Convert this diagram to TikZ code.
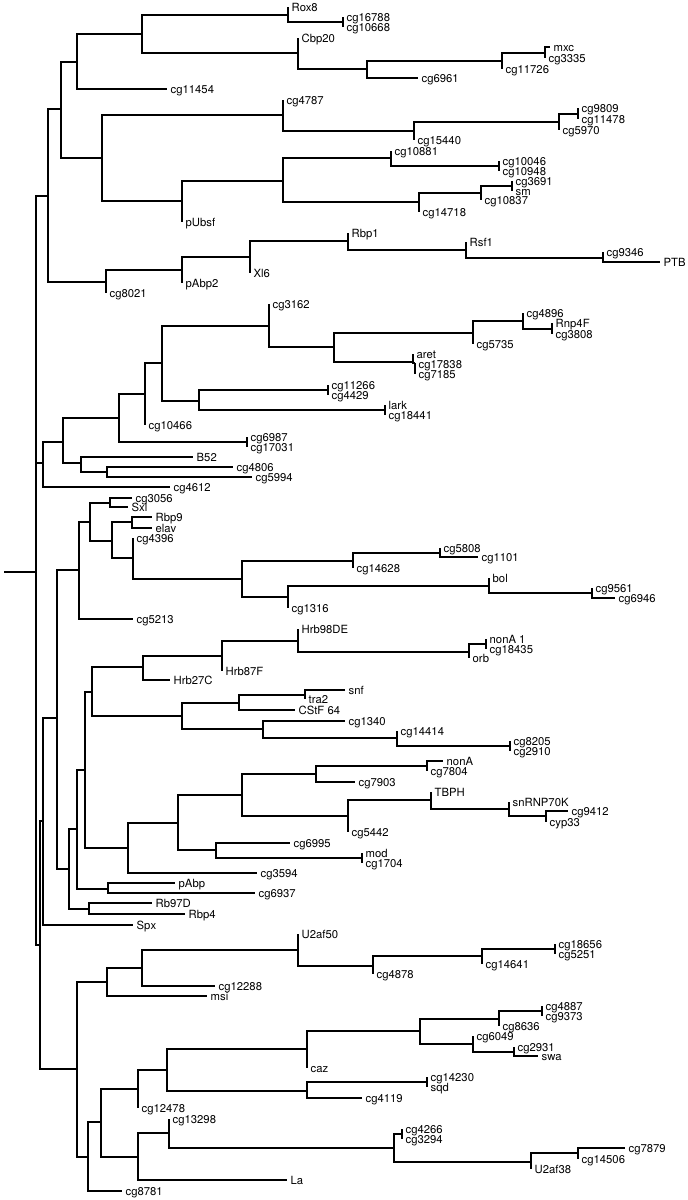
\documentclass[tikz,border=0pt]{standalone}
\usepackage{fontspec}
\setmainfont{TeX Gyre Heros}
\usepackage{tikz}
\tikzset{br/.style={line width=1.7pt},
 lab/.style={anchor=base west,inner sep=0pt,xshift=3.5pt,yshift=-4pt,font=\fontsize{11.3}{12}\selectfont}}

\begin{document}
\begin{tikzpicture}[x=1pt,y=-1pt]
\useasboundingbox(0,0)rectangle(688,1200);
\foreach \n/\x/\y in {r/36/572,nA/48/196,nA1/61/109,nA2/106/282,nA11/77/62,nA12/102/158,nA111/142/34,
 nrox/288/15,nt1/343/22,ncbp/298/53,nc1/367/69,nc2/502/61,nc3/545/53,nd1/283/115,nd3/414/131,nd4/559/122,
 nt2/578/114,nd2/182/201,nd5/283/181,nd6/391/158,nt3/499/166,nd7/419/202,nd8/481/193,nt4/512/186,
 ne1/182/270,ne2/250/257,ne3/348/241,ne4/466/250,ne5/603/258,
 nB/43/463,nb1/63/442,nb2/119/418,nt5/247/442,nb4/145/394,nb5/162/363,nb6/269/326,nb8/334/347,nb9/473/333,
 nb11/523/321,nt6/552/329,nb10/413/362,nt7/415/363,nb7/199/401,nt8/328/390,nt9/385/410,nb3/81/463,nb12/107/472,
 nCD/40/945,nC/43/821,nc10/57/718,nc11/79/570,nc13/90/522,nc14/110/503,nc15/112/541,nc16/132/522,nc17/133/558,
 nc18/242/579,nc19/353/561,nc21/440/553,nc20/288/597,nc22/489/586,nc23/592/593,nc12/69/869,nc25/89/909,
 nc24/77/829,nc27/108/889,nc26/85/770,nc28/92/692,nc30/143/667,nc32/222/656,nc33/298/641,nc34/469/652,
 nt10/486/644,nc31/182/716,nc35/239/703,nc37/305/695,nc36/263/729,nc38/397/738,nt11/510/746,nc29/128/848,
 nc39/178/823,nc40/242/795,nc42/316/774,nc44/427/766,nc43/348/816,nc45/431/800,nc46/509/809,nc47/546/816,
 nc41/216/850,nt12/362/858,
 nD/77/1069,nd10/107/982,nd12/142/968,nd13/298/950,nd14/373/966,nd15/482/956,nt13/555/949,nd11/88/1157,
 nd16/101/1122,nd17/138/1089,nd19/167/1070,nd20/307/1049,nd22/420/1031,nd23/499/1019,nt14/542/1011,
 nd24/473/1044,nd25/514/1052,nd21/307/1091,nt15/427/1082,nd18/138/1157,nd26/169/1133,nd27/394/1148,
 nt16/402/1134,nd28/531/1162,nd29/578/1153}
 \coordinate(\n) at(\x,\y);
\foreach \n/\x/\y/\lbl in {Rox8/288/7/Rox8,cg16788/343/17/cg16788,cg10668/343/27/cg10668,Cbp20/298/38/Cbp20,
 cg6961/418/78/cg6961,cg11726/502/69/cg11726,mxc/550/47/mxc,cg3335/545/58/cg3335,cg11454/167/89/cg11454,
 cg4787/283/100/cg4787,cg15440/414/140/cg15440,cg5970/559/130/cg5970,cg9809/578/108/cg9809,
 cg11478/578/119/cg11478,pUbsf/182/222/pUbsf,cg10881/391/151/cg10881,cg10046/499/161/cg10046,
 cg10948/499/171/cg10948,cg14718/419/212/cg14718,cg10837/481/200/cg10837,cg3691/512/181/cg3691,sm/512/191/sm,
 cg8021/106/293/cg8021,pAbp2/182/283/pAbp2,Xl6/250/273/Xl6,Rbp1/348/233/Rbp1,Rsf1/466/242/Rsf1,
 cg9346/603/252/cg9346,PTB/660/262/PTB,
 cg4612/170/487/cg4612,cg6987/247/437/cg6987,cg17031/247/447/cg17031,cg10466/145/425/cg10466,
 cg3162/269/304/cg3162,cg5735/473/344/cg5735,cg4896/523/313/cg4896,Rnp4F/552/323/Rnp4F,cg3808/552/334/cg3808,
 aret/413/354/aret,cg17838/415/364/cg17838,cg7185/415/374/cg7185,cg11266/328/385/cg11266,cg4429/328/395/cg4429,
 lark/385/405/lark,cg18441/385/415/cg18441,B52/193/457/B52,cg4806/233/467/cg4806,cg5994/252/477/cg5994,
 Spx/133/925/Spx,cg5213/133/619/cg5213,cg3056/132/498/cg3056,Sxl/128/507/Sxl,Rbp9/152/517/Rbp9,
 elav/152/528/elav,cg4396/133/538/cg4396,cg14628/353/568/cg14628,cg5808/440/548/cg5808,cg1101/478/557/cg1101,
 cg1316/288/608/cg1316,bol/489/578/bol,cg9561/592/588/cg9561,cg6946/615/598/cg6946,Rb97D/152/903/Rb97D,
 Rbp4/185/914/Rbp4,pAbp/175/883/pAbp,cg6937/255/893/cg6937,Hrb27C/170/680/Hrb27C,Hrb87F/222/671/Hrb87F,
 Hrb98DE/298/629/Hrb98DE,orb/469/658/orb,nonA1/486/639/nonA 1,cg18435/486/649/cg18435,
 CStF64/295/710/CStF 64,snf/345/690/snf,tra2/305/699/tra2,cg1340/345/721/cg1340,cg14414/397/731/cg14414,
 cg8205/510/741/cg8205,cg2910/510/751/cg2910,cg3594/257/873/cg3594,cg7903/355/782/cg7903,nonA/443/761/nonA,
 cg7804/427/771/cg7804,cg5442/348/832/cg5442,TBPH/431/792/TBPH,snRNP70K/509/802/snRNP70K,
 cg9412/568/811/cg9412,cyp33/546/822/cyp33,cg6995/290/843/cg6995,mod/362/853/mod,cg1704/362/863/cg1704,
 msi/207/996/msi,cg12288/215/986/cg12288,U2af50/298/934/U2af50,cg4878/373/974/cg4878,cg14641/482/964/cg14641,
 cg18656/555/944/cg18656,cg5251/555/954/cg5251,cg8781/122/1191/cg8781,cg12478/138/1108/cg12478,
 caz/307/1068/caz,cg8636/499/1026/cg8636,cg4887/542/1006/cg4887,cg9373/542/1016/cg9373,cg6049/473/1036/cg6049,
 cg2931/514/1047/cg2931,swa/538/1056/swa,cg4119/362/1098/cg4119,cg14230/427/1077/cg14230,sqd/427/1087/sqd,
 La/287/1180/La,cg13298/169/1119/cg13298,cg4266/402/1129/cg4266,cg3294/402/1139/cg3294,
 U2af38/531/1169/U2af38,cg7879/625/1148/cg7879,cg14506/578/1159/cg14506}
 {\coordinate(\n) at(\x,\y);\node[lab](\n-l) at(\n){\lbl};}
\coordinate(base) at(4,572);
\draw[br](base)--(r);
\foreach \pa/\ch in {r/nA,r/nB,r/nCD,nA/nA1,nA/nA2,nA1/nA11,nA1/nA12,nA11/nA111,nA11/cg11454,nA111/nrox,
 nA111/ncbp,nrox/Rox8,nrox/nt1,nt1/cg16788,nt1/cg10668,ncbp/Cbp20,ncbp/nc1,nc1/nc2,nc1/cg6961,nc2/nc3,
 nc2/cg11726,nc3/mxc,nc3/cg3335,nA12/nd1,nA12/nd2,nd1/cg4787,nd1/nd3,nd3/nd4,nd3/cg15440,nd4/nt2,nd4/cg5970,
 nt2/cg9809,nt2/cg11478,nd2/nd5,nd2/pUbsf,nd5/nd6,nd5/nd7,nd6/cg10881,nd6/nt3,nt3/cg10046,nt3/cg10948,
 nd7/nd8,nd7/cg14718,nd8/nt4,nd8/cg10837,nt4/cg3691,nt4/sm,nA2/ne1,nA2/cg8021,ne1/ne2,ne1/pAbp2,ne2/ne3,
 ne2/Xl6,ne3/Rbp1,ne3/ne4,ne4/Rsf1,ne4/ne5,ne5/cg9346,ne5/PTB,
 nB/nb1,nB/cg4612,nb1/nb2,nb1/nb3,nb2/nb4,nb2/nt5,nt5/cg6987,nt5/cg17031,nb4/nb5,nb4/cg10466,nb5/nb6,
 nb5/nb7,nb6/cg3162,nb6/nb8,nb8/nb9,nb8/nb10,nb9/nb11,nb9/cg5735,nb11/cg4896,nb11/nt6,nt6/Rnp4F,nt6/cg3808,
 nb10/aret,nb10/nt7,nt7/cg17838,nt7/cg7185,nb7/nt8,nb7/nt9,nt8/cg11266,nt8/cg4429,nt9/lark,nt9/cg18441,
 nb3/B52,nb3/nb12,nb12/cg4806,nb12/cg5994,
 nCD/nC,nCD/nD,nC/nc10,nC/Spx,nc10/nc11,nc10/nc12,nc11/nc13,nc11/cg5213,nc13/nc14,nc13/nc15,nc14/cg3056,
 nc14/Sxl,nc15/nc16,nc15/nc17,nc16/Rbp9,nc16/elav,nc17/cg4396,nc17/nc18,nc18/nc19,nc18/nc20,nc19/nc21,
 nc19/cg14628,nc21/cg5808,nc21/cg1101,nc20/nc22,nc20/cg1316,nc22/bol,nc22/nc23,nc23/cg9561,nc23/cg6946,
 nc12/nc24,nc12/nc25,nc25/Rb97D,nc25/Rbp4,nc24/nc26,nc24/nc27,nc27/pAbp,nc27/cg6937,nc26/nc28,nc26/nc29,
 nc28/nc30,nc28/nc31,nc30/nc32,nc30/Hrb27C,nc32/nc33,nc32/Hrb87F,nc33/Hrb98DE,nc33/nc34,nc34/nt10,nc34/orb,
 nt10/nonA1,nt10/cg18435,nc31/nc35,nc31/nc36,nc35/nc37,nc35/CStF64,nc37/snf,nc37/tra2,nc36/cg1340,
 nc36/nc38,nc38/cg14414,nc38/nt11,nt11/cg8205,nt11/cg2910,nc29/nc39,nc29/cg3594,nc39/nc40,nc39/nc41,
 nc40/nc42,nc40/nc43,nc42/nc44,nc42/cg7903,nc44/nonA,nc44/cg7804,nc43/nc45,nc43/cg5442,nc45/TBPH,
 nc45/nc46,nc46/snRNP70K,nc46/nc47,nc47/cg9412,nc47/cyp33,nc41/cg6995,nc41/nt12,nt12/mod,nt12/cg1704,
 nD/nd10,nD/nd11,nd10/nd12,nd10/msi,nd12/nd13,nd12/cg12288,nd13/U2af50,nd13/nd14,nd14/nd15,nd14/cg4878,
 nd15/nt13,nd15/cg14641,nt13/cg18656,nt13/cg5251,nd11/nd16,nd11/cg8781,nd16/nd17,nd16/nd18,nd17/nd19,
 nd17/cg12478,nd19/nd20,nd19/nd21,nd20/nd22,nd20/caz,nd22/nd23,nd22/nd24,nd23/nt14,nd23/cg8636,
 nt14/cg4887,nt14/cg9373,nd24/cg6049,nd24/nd25,nd25/cg2931,nd25/swa,nd21/nt15,nd21/cg4119,nt15/cg14230,
 nt15/sqd,nd18/nd26,nd18/La,nd26/cg13298,nd26/nd27,nd27/nt16,nd27/nd28,nt16/cg4266,nt16/cg3294,
 nd28/nd29,nd28/U2af38,nd29/cg7879,nd29/cg14506}
 \draw[br](\pa)|-(\ch);
\end{tikzpicture}
\end{document}
